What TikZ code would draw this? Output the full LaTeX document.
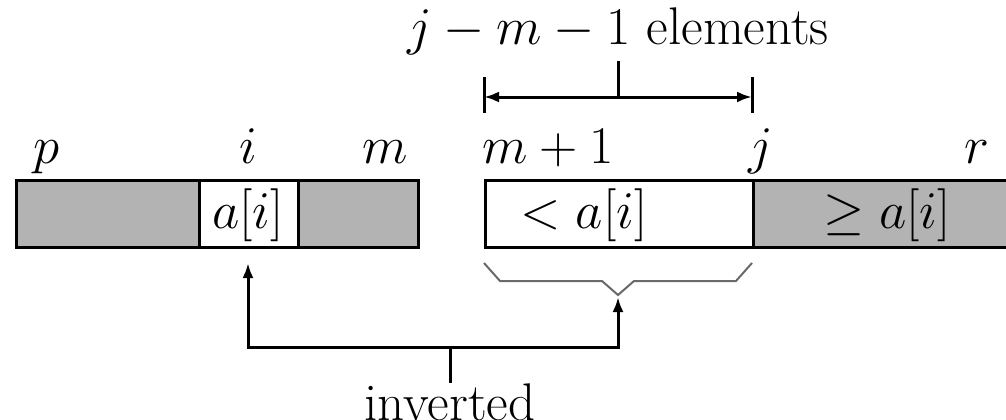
\documentclass[tikz,border=0pt]{standalone}
\usepackage{fix-cm}
\usetikzlibrary{arrows.meta}
\definecolor{cellgray}{HTML}{B3B3B3}
\definecolor{bracegray}{HTML}{6A6A6A}
\tikzset{
  cell/.style={draw, line width=3pt, anchor=north west, inner sep=0pt, minimum height=67pt},
  lbl/.style={anchor=base, inner sep=0pt, font=\fontsize{53}{64}\selectfont},
  conn/.style={line width=3pt},
  tipped/.style={-{Latex[length=15pt,width=11pt]}},
}
\begin{document}
\begin{tikzpicture}[x=1pt,y=-1pt]
\useasboundingbox (0,0) rectangle (1006,420);
\clip (0,0) rectangle (1006,420);
% cells
\node[cell, fill=cellgray, minimum width=183pt] (c1) at (15,179) {};
\node[cell, fill=white, minimum width=99pt] (c2) at (198,179) {};
\node[cell, fill=cellgray, minimum width=120pt] (c3) at (297,179) {};
\node[cell, fill=white, minimum width=268pt] (c4) at (484,179) {};
\node[cell, fill=cellgray, minimum width=280pt] (c5) at (752,179) {};
% cell texts
\node[lbl] (ai) at (248,228) {$a[i]$};
\node[lbl] (lt) at (584,228) {$<a[i]$};
\node[lbl] (ge) at (887,228) {$\geq a[i]$};
% index labels
\node[lbl] (lp) at (47,163) {$p$};
\node[lbl] (li) at (248,163) {$i$};
\node[lbl] (lm) at (385,163) {$m$};
\node[lbl, anchor=base west] (lm1) at (482,163) {$m+1$};
\node[lbl] (lj) at (761,163) {$j$};
\node[lbl] (lr) at (977,163) {$r$};
% top dimension
\node[lbl] (top) at (618,45) {$j-m-1$ elements};
\coordinate (tl1) at (484,77);
\coordinate (tl2) at (484,113);
\coordinate (tr1) at (752,77);
\coordinate (tr2) at (752,113);
\coordinate (dl) at (484,97);
\coordinate (dr) at (752,97);
\coordinate (dm) at (618,97);
\coordinate (stub) at (618,61);
\draw[conn] (tl1) -- (tl2);
\draw[conn] (tr1) -- (tr2);
\draw[conn, {Latex[length=15pt,width=11pt]}-{Latex[length=15pt,width=11pt]}] (dl) -- (dr);
\draw[conn] (stub) -- (dm);
% brace
\coordinate (btip) at (618,295);
\draw[bracegray, line width=2pt, line join=miter]
  (484,263) -- (500,281) -- (602,281) -- (btip) -- (634,281) -- (736,281) -- (752,263);
% inverted arrows
\node[lbl] (inv) at (450,420) {inverted};
\coordinate (jn) at (450,347);
\coordinate (aitip) at (248,263);
\coordinate (brtip) at (618,297);
\draw[conn, tipped] (jn) -| (aitip);
\draw[conn, tipped] (jn) -| (brtip);
\draw[conn] (jn) -- (inv.north);
\end{tikzpicture}
\end{document}
